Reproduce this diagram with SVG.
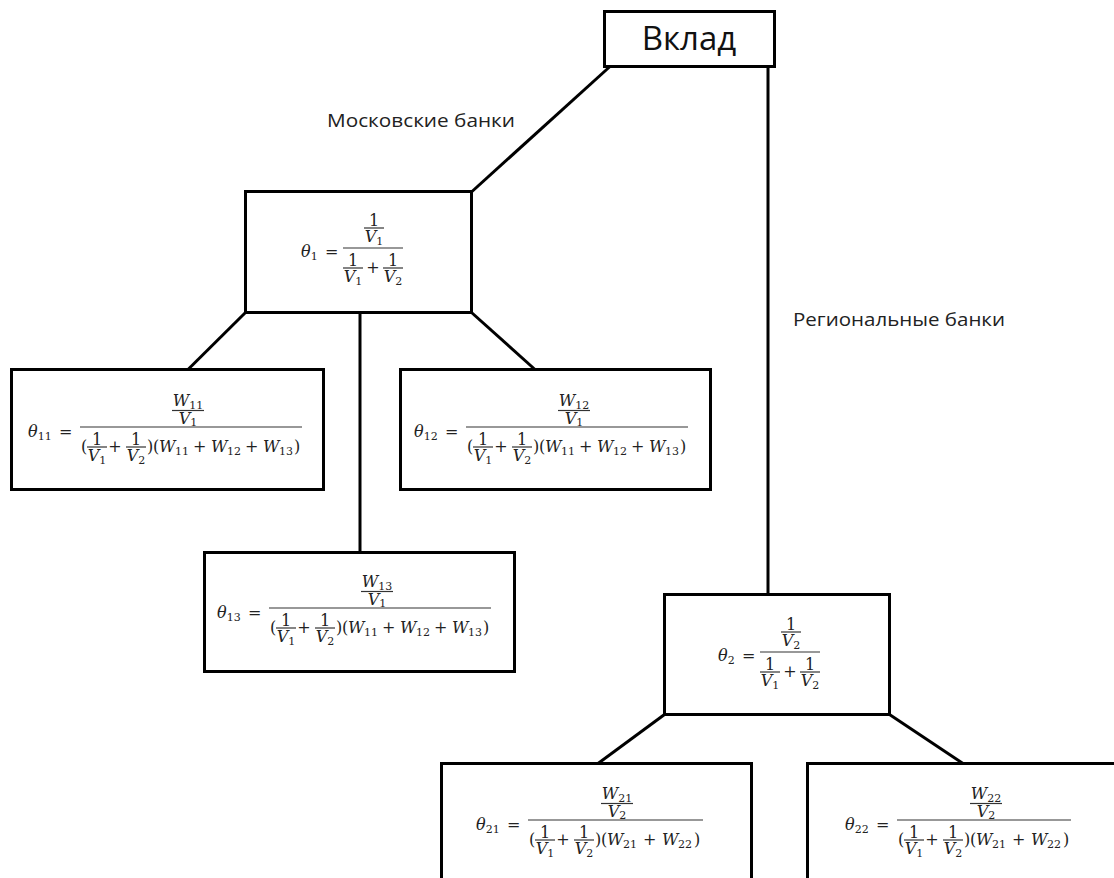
<svg xmlns="http://www.w3.org/2000/svg" xmlns:xlink="http://www.w3.org/1999/xlink" width="1114" height="878" viewBox="0 0 1114 878">
<style>
.box{fill:#fff;stroke:#000;stroke-width:3}
.conn{stroke:#000;stroke-width:3;fill:none}
.m{font-family:"DejaVu Serif","Liberation Serif",serif;font-size:16px;fill:#222}
.i{font-style:italic}
.s{font-size:11px;font-style:normal}
.bar{stroke:#333;stroke-width:1.2}
.lbl{font-family:"Open Sans","Noto Sans",sans-serif;font-size:19px;fill:#222}
.title{font-family:"Open Sans","Noto Sans",sans-serif;font-size:33px;fill:#111}
</style>
<defs>
  <g id="r1">
    <text class="m" x="0" y="-2" text-anchor="middle">1</text>
    <line class="bar" x1="-10" y1="0" x2="10" y2="0"/>
    <text class="m i" x="0" y="14" text-anchor="middle">V<tspan class="s" dy="3">1</tspan></text>
  </g>
  <g id="r2">
    <text class="m" x="0" y="-2" text-anchor="middle">1</text>
    <line class="bar" x1="-10" y1="0" x2="10" y2="0"/>
    <text class="m i" x="0" y="14" text-anchor="middle">V<tspan class="s" dy="3">2</tspan></text>
  </g>
  <!-- (1/V1 + 1/V2) for the large formulas -->
  <g id="dp">
    <text class="m" x="1" y="25">(</text>
    <use xlink:href="#r1" href="#r1" x="17" y="20"/>
    <text class="m" x="35" y="25" text-anchor="middle">+</text>
    <use xlink:href="#r2" href="#r2" x="56" y="20"/>
    <text class="m" x="67" y="25">)</text>
  </g>
  <!-- 1/V1 + 1/V2 for the small formulas -->
  <g id="ds">
    <use xlink:href="#r1" href="#r1" x="10" y="20"/>
    <text class="m" x="30" y="25" text-anchor="middle">+</text>
    <use xlink:href="#r2" href="#r2" x="50" y="20"/>
  </g>
</defs>

<g id="connectors">
  <path class="conn" d="M610 66.5 L472 191.5"/>
  <path class="conn" d="M768 66.5 V594.5"/>
  <path class="conn" d="M245.5 312.5 L188 369.5"/>
  <path class="conn" d="M360 312.5 V552.5"/>
  <path class="conn" d="M471.5 312.5 L535 369.5"/>
  <path class="conn" d="M664.5 714.5 L598 763.5"/>
  <path class="conn" d="M889.5 714.5 L963 763.5"/>
</g>

<g id="label-moscow">
  <text class="lbl" x="327" y="127" textLength="188" lengthAdjust="spacingAndGlyphs">Московские банки</text>
</g>
<g id="label-regional">
  <text class="lbl" x="793" y="326" textLength="212" lengthAdjust="spacingAndGlyphs">Региональные банки</text>
</g>

<g id="node-vklad">
  <rect class="box" x="604.5" y="11.5" width="170" height="55"/>
  <text class="title" x="689" y="50" text-anchor="middle">Вклад</text>
</g>

<g id="node-theta1">
  <rect class="box" x="245.5" y="191.5" width="226" height="121"/>
  <g transform="translate(343,248)">
    <text class="m i" x="-42" y="9">θ<tspan class="s" dy="3">1</tspan></text>
    <text class="m" x="-18" y="9">=</text>
    <line class="bar" x1="0" y1="0" x2="60" y2="0"/>
    <use xlink:href="#r1" href="#r1" x="31" y="-20"/>
    <use xlink:href="#ds" href="#ds"/>
  </g>
</g>

<g id="node-theta2">
  <rect class="box" x="664.5" y="594.5" width="225" height="120"/>
  <g transform="translate(760,652)">
    <text class="m i" x="-42" y="9">θ<tspan class="s" dy="3">2</tspan></text>
    <text class="m" x="-18" y="9">=</text>
    <line class="bar" x1="0" y1="0" x2="60" y2="0"/>
    <use xlink:href="#r2" href="#r2" x="31" y="-20"/>
    <use xlink:href="#ds" href="#ds"/>
  </g>
</g>

<g id="node-theta11">
  <rect class="box" x="11.5" y="369.5" width="312" height="120"/>
  <g transform="translate(80,427)">
    <text class="m i" x="-52" y="10">θ<tspan class="s" dy="3">11</tspan></text>
    <text class="m" x="-21" y="10">=</text>
    <line class="bar" x1="0" y1="0" x2="222" y2="0"/>
    <text class="m i" x="108" y="-21" text-anchor="middle">W<tspan class="s" dy="3">11</tspan></text>
    <line class="bar" x1="92" y1="-16.5" x2="124" y2="-16.5"/>
    <text class="m i" x="108" y="-3" text-anchor="middle">V<tspan class="s" dy="2">1</tspan></text>
    <use xlink:href="#dp" href="#dp"/>
    <text class="m"><tspan x="73" y="25">(</tspan><tspan class="i" x="79" y="25">W</tspan><tspan class="s" x="95" y="28">11</tspan><tspan x="113" y="25">+</tspan><tspan class="i" x="131" y="25">W</tspan><tspan class="s" x="147" y="28">12</tspan><tspan x="165" y="25">+</tspan><tspan class="i" x="183" y="25">W</tspan><tspan class="s" x="199" y="28">13</tspan><tspan x="214" y="25">)</tspan></text>
  </g>
</g>

<g id="node-theta12">
  <rect class="box" x="400.5" y="369.5" width="310" height="120"/>
  <g transform="translate(466,427)">
    <text class="m i" x="-52" y="10">θ<tspan class="s" dy="3">12</tspan></text>
    <text class="m" x="-21" y="10">=</text>
    <line class="bar" x1="0" y1="0" x2="222" y2="0"/>
    <text class="m i" x="108" y="-21" text-anchor="middle">W<tspan class="s" dy="3">12</tspan></text>
    <line class="bar" x1="92" y1="-16.5" x2="124" y2="-16.5"/>
    <text class="m i" x="108" y="-3" text-anchor="middle">V<tspan class="s" dy="2">1</tspan></text>
    <use xlink:href="#dp" href="#dp"/>
    <text class="m"><tspan x="73" y="25">(</tspan><tspan class="i" x="79" y="25">W</tspan><tspan class="s" x="95" y="28">11</tspan><tspan x="113" y="25">+</tspan><tspan class="i" x="131" y="25">W</tspan><tspan class="s" x="147" y="28">12</tspan><tspan x="165" y="25">+</tspan><tspan class="i" x="183" y="25">W</tspan><tspan class="s" x="199" y="28">13</tspan><tspan x="214" y="25">)</tspan></text>
  </g>
</g>

<g id="node-theta13">
  <rect class="box" x="204.5" y="552.5" width="310" height="119"/>
  <g transform="translate(269,608)">
    <text class="m i" x="-52" y="10">θ<tspan class="s" dy="3">13</tspan></text>
    <text class="m" x="-21" y="10">=</text>
    <line class="bar" x1="0" y1="0" x2="222" y2="0"/>
    <text class="m i" x="108" y="-21" text-anchor="middle">W<tspan class="s" dy="3">13</tspan></text>
    <line class="bar" x1="92" y1="-16.5" x2="124" y2="-16.5"/>
    <text class="m i" x="108" y="-3" text-anchor="middle">V<tspan class="s" dy="2">1</tspan></text>
    <use xlink:href="#dp" href="#dp"/>
    <text class="m"><tspan x="73" y="25">(</tspan><tspan class="i" x="79" y="25">W</tspan><tspan class="s" x="95" y="28">11</tspan><tspan x="113" y="25">+</tspan><tspan class="i" x="131" y="25">W</tspan><tspan class="s" x="147" y="28">12</tspan><tspan x="165" y="25">+</tspan><tspan class="i" x="183" y="25">W</tspan><tspan class="s" x="199" y="28">13</tspan><tspan x="214" y="25">)</tspan></text>
  </g>
</g>

<g id="node-theta21">
  <rect class="box" x="441.5" y="763.5" width="310" height="130"/>
  <g transform="translate(528,820)">
    <text class="m i" x="-52" y="10">θ<tspan class="s" dy="3">21</tspan></text>
    <text class="m" x="-21" y="10">=</text>
    <line class="bar" x1="0" y1="0" x2="175" y2="0"/>
    <text class="m i" x="89" y="-21" text-anchor="middle">W<tspan class="s" dy="3">21</tspan></text>
    <line class="bar" x1="73" y1="-16.5" x2="105" y2="-16.5"/>
    <text class="m i" x="89" y="-3" text-anchor="middle">V<tspan class="s" dy="2">2</tspan></text>
    <use xlink:href="#dp" href="#dp"/>
    <text class="m"><tspan x="73" y="25">(</tspan><tspan class="i" x="79" y="25">W</tspan><tspan class="s" x="95" y="28">21</tspan><tspan x="115" y="25">+</tspan><tspan class="i" x="134" y="25">W</tspan><tspan class="s" x="150" y="28">22</tspan><tspan x="166" y="25">)</tspan></text>
  </g>
</g>

<g id="node-theta22">
  <rect class="box" x="807.5" y="763.5" width="320" height="130"/>
  <g transform="translate(897,820)">
    <text class="m i" x="-52" y="10">θ<tspan class="s" dy="3">22</tspan></text>
    <text class="m" x="-21" y="10">=</text>
    <line class="bar" x1="0" y1="0" x2="174" y2="0"/>
    <text class="m i" x="89" y="-21" text-anchor="middle">W<tspan class="s" dy="3">22</tspan></text>
    <line class="bar" x1="73" y1="-16.5" x2="105" y2="-16.5"/>
    <text class="m i" x="89" y="-3" text-anchor="middle">V<tspan class="s" dy="2">2</tspan></text>
    <use xlink:href="#dp" href="#dp"/>
    <text class="m"><tspan x="73" y="25">(</tspan><tspan class="i" x="79" y="25">W</tspan><tspan class="s" x="95" y="28">21</tspan><tspan x="115" y="25">+</tspan><tspan class="i" x="134" y="25">W</tspan><tspan class="s" x="150" y="28">22</tspan><tspan x="166" y="25">)</tspan></text>
  </g>
</g>
</svg>
